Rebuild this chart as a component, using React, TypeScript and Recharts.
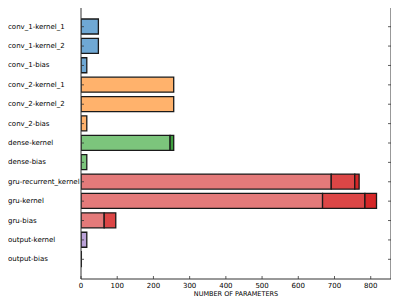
import React from 'react';
import { BarChart, Bar, XAxis, YAxis, Cell } from 'recharts';

// layer names, top to bottom
const layers = [
    'conv_1-kernel_1', 'conv_1-kernel_2', 'conv_1-bias',
    'conv_2-kernel_1', 'conv_2-kernel_2', 'conv_2-bias',
    'dense-kernel', 'dense-bias',
    'gru-recurrent_kernel', 'gru-kernel', 'gru-bias',
    'output-kernel', 'output-bias',
];
const groups = ['blue', 'blue', 'blue', 'orange', 'orange', 'orange', 'green', 'green', 'red', 'red', 'red', 'purple', 'purple'];

// parameter counts per stacked segment
const part1 = [48, 48, 16, 256, 256, 16, 246, 16, 691, 667, 64, 16, 1];
const part2 = [0, 0, 0, 0, 0, 0, 10, 0, 65, 117, 32, 0, 0];
const part3 = [0, 0, 0, 0, 0, 0, 0, 0, 12, 32, 0, 0, 0];

const xTicks = [0, 100, 200, 300, 400, 500, 600, 700, 800];

const palette: Record<string, string[]> = {
    blue: ['#6fa8d4', '#4a8cc2', '#1f77b4'],
    orange: ['#ffb26c', '#ff9a3c', '#ff7f0e'],
    green: ['#7cc57c', '#3f9f3f', '#2ca02c'],
    red: ['#e47a7a', '#dc4646', '#d62728'],
    purple: ['#bba2d8', '#9f82c6', '#9467bd'],
};

const data = layers.map((name, i) => ({ name, a: part1[i], b: part2[i], c: part3[i] }));

const PLOT_LEFT = 81;
const PLOT_RIGHT = 391;
const PLOT_TOP = 7;
const PLOT_BOTTOM = 279;
const FONT = 'DejaVu Sans, sans-serif';

const LeftTick = (props: any) => {
    const { y, payload } = props;
    return (
        <g>
            <text x={8} y={y} textAnchor="start" dominantBaseline="central" fontSize={7} fontFamily={FONT} fill="#000">
                {payload.value}
            </text>
            <line x1={PLOT_LEFT} x2={PLOT_LEFT + 3} y1={y} y2={y} stroke="#333" strokeWidth={0.8} />
        </g>
    );
};

const RightTick = (props: any) => {
    const { y } = props;
    return <line x1={PLOT_RIGHT} x2={PLOT_RIGHT - 3} y1={y} y2={y} stroke="#333" strokeWidth={0.8} />;
};

const BottomTick = (props: any) => {
    const { x, payload } = props;
    return (
        <g>
            <line x1={x} x2={x} y1={PLOT_BOTTOM} y2={PLOT_BOTTOM - 3} stroke="#333" strokeWidth={0.8} />
            <text x={x} y={PLOT_BOTTOM + 7} textAnchor="middle" dominantBaseline="central" fontSize={7} fontFamily={FONT} fill="#000">
                {payload.value}
            </text>
        </g>
    );
};

const TopTick = (props: any) => {
    const { x } = props;
    return <line x1={x} x2={x} y1={PLOT_TOP} y2={PLOT_TOP + 3} stroke="#333" strokeWidth={0.8} />;
};

const segKeys = ['a', 'b', 'c'];

const App: React.FC = () => {
    return (
        <div style={{ margin: '-8px 0 0 -8px', width: 399, height: 299 }}>
            <BarChart
                width={399}
                height={299}
                data={data}
                layout="vertical"
                barSize={15}
                margin={{ top: PLOT_TOP, right: 0, bottom: 0, left: 0 }}
            >
                <XAxis
                    xAxisId="bottom"
                    type="number"
                    domain={[0, 856]}
                    ticks={xTicks}
                    orientation="bottom"
                    height={20}
                    tickLine={false}
                    tick={<BottomTick />}
                    axisLine={{ stroke: '#333', strokeWidth: 1 }}
                    allowDataOverflow
                    label={{ value: 'NUMBER OF PARAMETERS', position: 'insideBottom', offset: 3, fontSize: 6.5, fontFamily: FONT, fill: '#000' }}
                />
                <XAxis
                    xAxisId="top"
                    type="number"
                    domain={[0, 856]}
                    ticks={xTicks}
                    orientation="top"
                    height={0}
                    tickLine={false}
                    tick={<TopTick />}
                    axisLine={{ stroke: '#333', strokeWidth: 1 }}
                    allowDataOverflow
                />
                <YAxis
                    yAxisId="left"
                    type="category"
                    dataKey="name"
                    width={PLOT_LEFT}
                    padding={{ top: 10, bottom: 10 }}
                    tickLine={false}
                    tick={<LeftTick />}
                    interval={0}
                    axisLine={{ stroke: '#333', strokeWidth: 1 }}
                />
                <YAxis
                    yAxisId="right"
                    type="category"
                    dataKey="name"
                    orientation="right"
                    width={399 - PLOT_RIGHT}
                    padding={{ top: 10, bottom: 10 }}
                    tickLine={false}
                    tick={<RightTick />}
                    interval={0}
                    axisLine={{ stroke: '#333', strokeWidth: 1 }}
                />
                {segKeys.map((k, si) => (
                    <Bar
                        key={k}
                        dataKey={k}
                        stackId="s"
                        xAxisId="bottom"
                        yAxisId="left"
                        stroke="#1a1a1a"
                        strokeWidth={1.3}
                        isAnimationActive={false}
                    >
                        {data.map((d, i) => (
                            <Cell key={d.name} fill={palette[groups[i]][si]} />
                        ))}
                    </Bar>
                ))}
            </BarChart>
        </div>
    );
};

export default App;
